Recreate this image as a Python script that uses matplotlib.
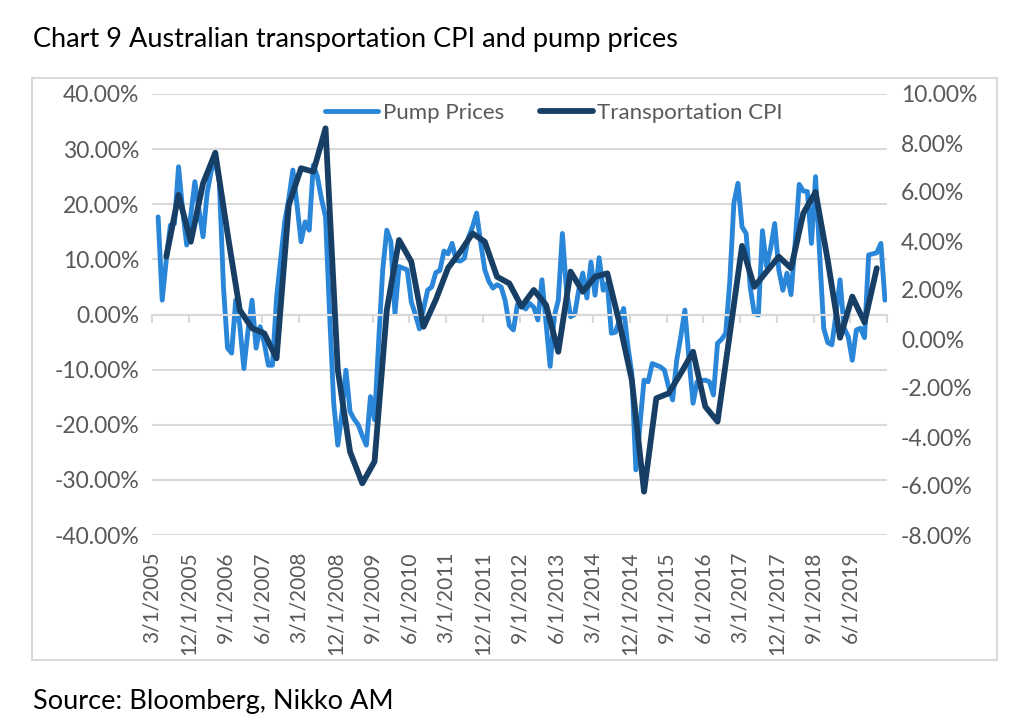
import numpy as np
import pandas as pd
import matplotlib
matplotlib.use('Agg')
from matplotlib import pyplot as plt
from matplotlib.patches import Rectangle
from matplotlib.ticker import FuncFormatter, MultipleLocator

plt.rcParams['font.family'] = ['Lato', 'DejaVu Sans']

# monthly pump price yoy (%), 4/2005 .. 2/2020
pump_prices = [
    17.7, 2.6, 10, 16.2, 16.5, 26.8, 19, 12.6, 18, 24.1,
    19, 14.1, 22, 26, 28, 24, 5, -6.1, -7, 2.6,
    -2, -9.8, -3, 2.6, -6.1, -2.2, -5.2, -9.2, -9.2, 3,
    10, 16.8, 21, 26.2, 20, 13.2, 16.8, 15.3, 27.1, 25,
    21, 17.7, 0, -16.1, -23.7, -18, -10.1, -17.6, -19, -20,
    -22, -23.7, -14.9, -19.1, -5, 8.1, 15.3, 13.2, 0.2, 8.7,
    8.4, 8.1, 2.3, 0, -2.6, 1, 4.4, 5, 7.6, 8,
    11.5, 11, 12.9, 9.8, 9.7, 10.2, 14, 15.9, 18.4, 13,
    8.1, 6, 4.8, 5.4, 5, 2.5, -2.0, -2.8, 1.8, 1.7,
    1.0, 2.0, 1.3, -1.0, 6.3, -1.5, -9.4, -0.4, 2.6, 14.7,
    4.4, -0.4, 0, 4.4, 7.5, 3, 9.5, 3.5, 10.3, 4.4,
    5.7, -3.4, -3.2, -1, 1.1, -5.5, -10.7, -28.2, -20, -11.9,
    -12.2, -8.9, -9.2, -9.5, -10.1, -13.1, -15.5, -8.3, -4, 0.8,
    -8, -16.1, -12.2, -12, -11.9, -12.2, -14.6, -5.2, -4.5, -3.4,
    6, 20.2, 23.8, 15.9, 14.7, 5, 0.2, -0.1, 15.2, 8.7,
    12, 16.5, 8.1, 4.4, 7.5, 3.6, 13, 23.6, 22.4, 22.3,
    12.9, 25, 11, -2.5, -5.1, -5.5, 0, 6.3, -2.5, -4,
    -8.3, -2.8, -2.5, -4.2, 10.8, 11, 11.2, 12.9, 2.6,
]

# quarterly transportation CPI yoy (%), 6/2005 .. 12/2019
transport_cpi = [
    3.36, 5.88, 3.97, 6.35, 7.6, 4.3, 1.18, 0.44, 0.23, -0.79,
    5.47, 6.97, 6.83, 8.6, -1.27, -4.6, -5.89, -5.0, 1.18, 4.04,
    3.16, 0.5, 1.6, 2.9, 3.56, 4.31, 3.97, 2.54, 2.27, 1.32,
    2.0, 1.39, -0.52, 2.75, 1.93, 2.54, 2.68, 0.64, -1.67, -6.23,
    -2.42, -2.22, -1.4, -0.52, -2.76, -3.37, 0.2, 3.8, 2.13, 2.75,
    3.36, 2.89, 5.13, 6.0, 3.2, 0.05, 1.73, 0.68, 2.89,
]

tick_dates = pd.date_range('2005-03-01', periods=20, freq='9MS')
tick_labels = [f'{d.month}/1/{d.year}' for d in tick_dates]

pump_color = '#2986D8'
cpi_color = '#173F66'
grid_color = '#D9D9D9'
text_color = '#595959'

# month index, 0 = 3/2005, points sit in the middle of each month slot
pump_x = np.arange(1, 1 + len(pump_prices)) + 0.5
cpi_x = np.arange(3, 3 + 3 * len(transport_cpi), 3) + 0.5

fig = plt.figure(figsize=(10.24, 7.27), dpi=100)
ax = fig.add_axes([152 / 1024, 1 - 535 / 727, 735 / 1024, 441 / 727])
ax2 = ax.twinx()

ax.set_xlim(0, 180)
ax.set_ylim(-40, 40)
ax2.set_ylim(-8, 10)
ax.yaxis.set_major_locator(MultipleLocator(10))
ax2.yaxis.set_major_locator(MultipleLocator(2))
pct = FuncFormatter(lambda v, p: f'{v:.2f}%'.replace('\u2212', '-'))
ax.yaxis.set_major_formatter(pct)
ax2.yaxis.set_major_formatter(pct)

ax.grid(axis='y', color=grid_color, lw=1.5)
ax.set_axisbelow(True)
for a in (ax, ax2):
    for s in ('left', 'right', 'top', 'bottom'):
        a.spines[s].set_visible(False)
ax.tick_params(axis='y', length=0, labelsize=16.5, labelcolor=text_color, pad=9)
ax2.tick_params(axis='y', length=0, labelsize=16.5, labelcolor=text_color, pad=10)

# category ticks on the zero line
ax.spines['bottom'].set_visible(True)
ax.spines['bottom'].set_position(('data', 0))
ax.spines['bottom'].set_color(grid_color)
ax.spines['bottom'].set_linewidth(1.5)
ax.set_xticks(np.arange(0, 181, 9))
ax.tick_params(axis='x', length=6, width=1.5, color=grid_color, labelbottom=False)

sec = ax.secondary_xaxis('bottom')
sec.set_xticks(np.arange(0, 180, 9)[:len(tick_labels)], tick_labels, rotation=90)
sec.tick_params(length=0, labelsize=15, labelcolor=text_color, pad=12)
sec.spines['bottom'].set_visible(False)

l1, = ax.plot(pump_x, pump_prices, color=pump_color, lw=3.5,
              solid_joinstyle='round', solid_capstyle='round', label='Pump Prices')
l2, = ax2.plot(cpi_x, transport_cpi, color=cpi_color, lw=4.2,
               solid_joinstyle='round', solid_capstyle='round', label='Transportation CPI')

ax2.legend(handles=[l1, l2], loc='center', bbox_to_anchor=(0.547, 0.957), ncol=2,
           frameon=False, fontsize=16, labelcolor=text_color, handlelength=2.4,
           columnspacing=1.6, handletextpad=0.2)

fig.patches.append(Rectangle((32 / 1024, 1 - 660 / 727), 965 / 1024, 582 / 727,
                             transform=fig.transFigure, fill=False,
                             edgecolor=grid_color, lw=1.5))

fig.text(33 / 1024, 1 - 40 / 727, 'Chart 9 Australian transportation CPI and pump prices',
         fontsize=19.5, color='black', va='center', ha='left')
fig.text(33 / 1024, 1 - 702 / 727, 'Source: Bloomberg, Nikko AM',
         fontsize=19.5, color='black', va='center', ha='left')

fig.savefig('out.png', dpi=100)
